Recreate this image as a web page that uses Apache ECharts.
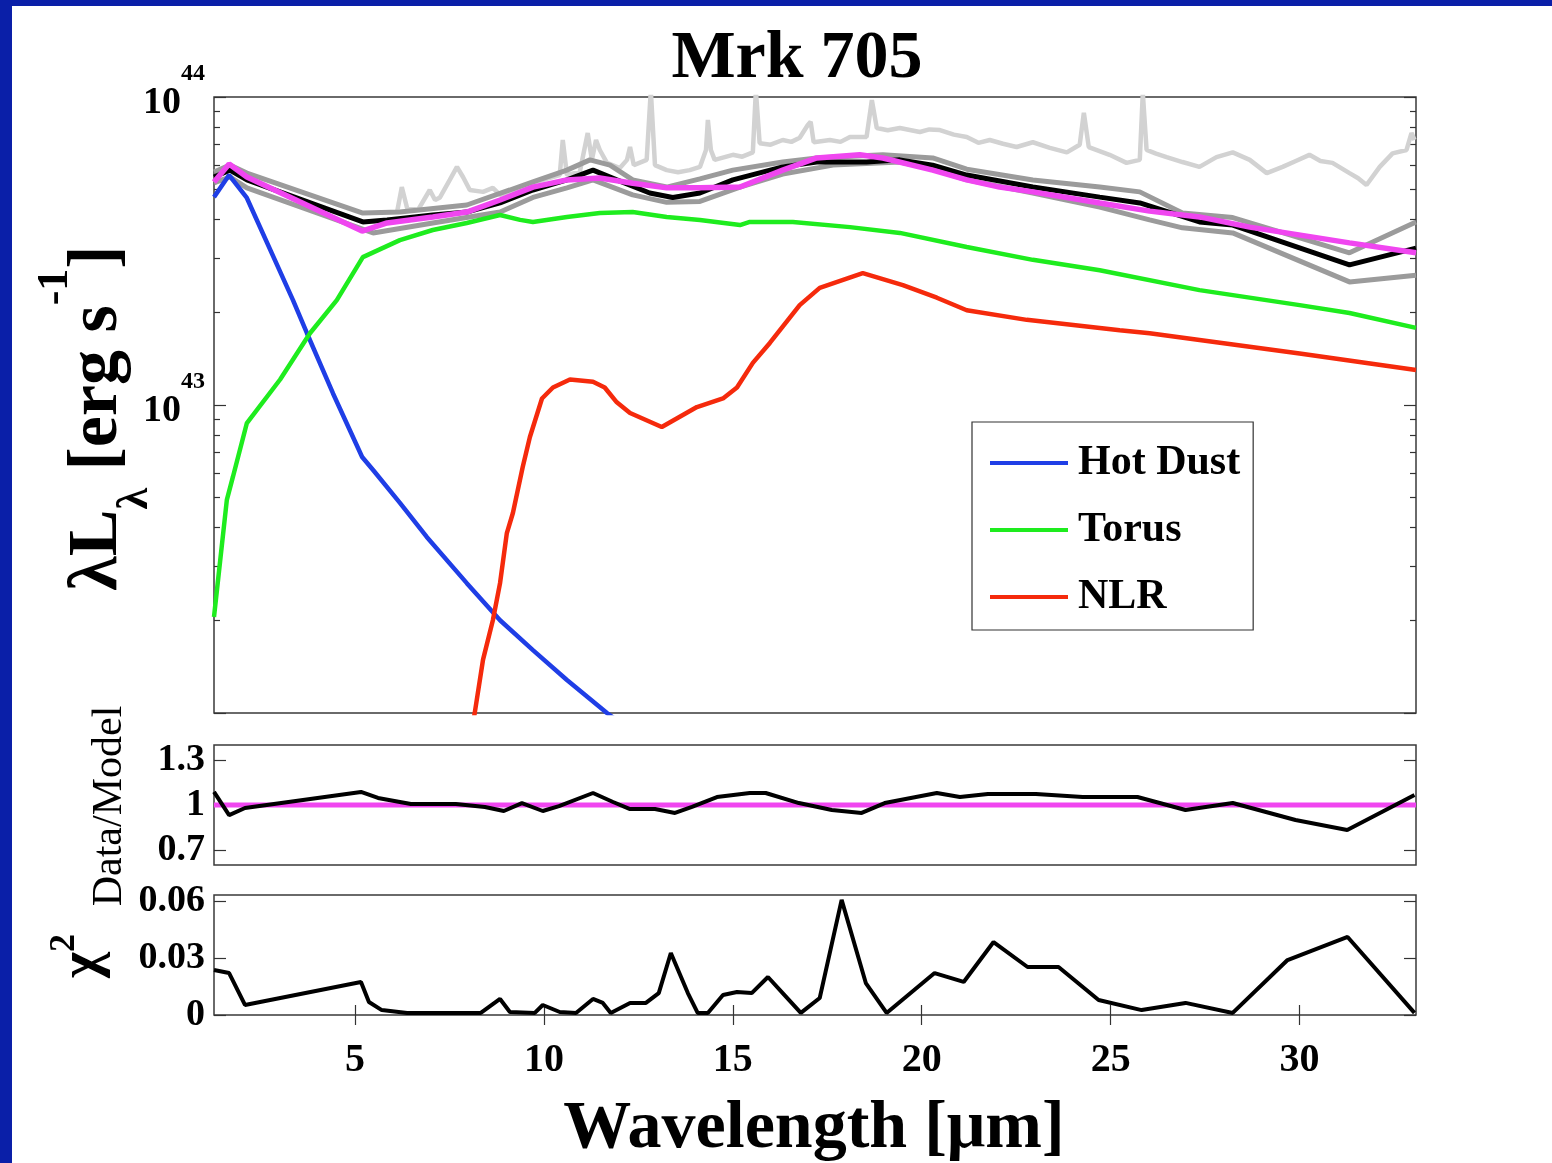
<!DOCTYPE html>
<html><head><meta charset="utf-8">
<script src="https://cdn.jsdelivr.net/npm/echarts@6/dist/echarts.min.js"></script>
<style>
html,body{margin:0;padding:0;background:#0a1fa8;width:1552px;height:1163px;overflow:hidden}
#c{position:absolute;left:12px;top:6px;width:1540px;height:1157px;background:#fff}
</style></head><body><div id="c"></div>
<script>
const F = '"Liberation Serif", "Times New Roman", serif';

// wavelength (µm), λLλ in units of 1e43 erg/s
const spectrum = [[6.11,4.20],[6.24,5.10],[6.38,4.36],[6.67,4.30],[6.98,4.99],[7.12,4.63],[7.25,4.72],[7.51,5.38],[7.70,5.93],[7.86,5.50],[8.04,4.99],[8.39,4.92],[8.65,5.07],[8.84,4.81],[9.23,4.99],[9.71,5.26],[10.16,5.46],[10.42,5.58],[10.50,7.25],[10.61,5.58],[10.95,5.71],[11.16,7.64],[11.27,6.25],[11.38,7.25],[11.48,6.73],[11.67,6.11],[12.01,5.88],[12.20,6.25],[12.28,6.88],[12.38,6.01],[12.72,6.25],[12.83,10.5],[12.94,6.01],[13.25,5.79],[13.55,5.70],[13.86,5.79],[14.13,5.93],[14.29,6.73],[14.34,8.42],[14.42,6.73],[14.52,6.25],[15.0,6.49],[15.25,6.40],[15.53,6.61],[15.61,10.5],[15.71,7.08],[16.0,7.0],[16.32,7.25],[16.55,7.15],[16.77,7.37],[16.98,8.10],[17.06,8.31],[17.14,7.13],[17.57,7.25],[17.85,7.15],[18.10,7.42],[18.54,7.42],[18.68,9.77],[18.81,7.93],[19.10,7.80],[19.42,7.93],[19.95,7.70],[20.20,7.85],[20.48,7.81],[20.85,7.55],[21.19,7.42],[21.50,7.10],[21.80,7.25],[22.15,7.05],[22.51,6.88],[22.94,7.13],[23.39,6.84],[23.84,6.61],[24.18,7.00],[24.29,8.88],[24.42,6.88],[24.97,6.49],[25.42,6.11],[25.77,6.25],[25.85,10.3],[25.95,6.73],[26.20,6.55],[26.48,6.38],[26.90,6.15],[27.35,5.93],[27.80,6.38],[28.23,6.61],[28.68,6.25],[29.13,5.66],[29.55,5.93],[29.90,6.20],[30.26,6.49],[30.55,6.20],[30.87,6.11],[31.32,5.66],[31.55,5.45],[31.77,5.18],[32.12,5.93],[32.46,6.56],[32.83,6.73],[32.96,7.64],[33.04,7.25]];
const dataUpper = [[1.27,5.71],[1.69,6.01],[2.14,5.66],[5.21,4.20],[6.19,4.23],[7.96,4.46],[9.10,4.99],[9.71,5.30],[10.61,5.79],[11.22,6.25],[11.75,6.01],[12.35,5.38],[13.25,5.10],[14.13,5.42],[15.0,5.79],[16.32,6.15],[17.22,6.34],[18.97,6.49],[20.29,6.34],[21.19,5.83],[22.94,5.38],[24.71,5.10],[25.77,4.92],[26.9,4.20],[28.23,4.06],[31.32,3.12],[33.08,3.93]];
const dataLower = [[1.27,5.26],[1.69,5.50],[2.14,5.07],[5.48,3.62],[7.06,3.90],[8.84,4.23],[9.71,4.72],[10.61,5.07],[11.30,5.38],[12.35,4.81],[13.25,4.55],[14.13,4.58],[15.19,5.10],[16.32,5.62],[17.65,6.01],[19.42,6.15],[20.29,5.83],[21.19,5.38],[22.94,4.88],[24.71,4.39],[26.03,3.99],[26.9,3.76],[28.23,3.62],[31.32,2.51],[33.08,2.64]];
const dataSed = [[1.27,5.50],[1.69,5.79],[2.14,5.38],[5.21,3.93],[5.85,3.99],[7.06,4.14],[7.96,4.23],[8.84,4.53],[9.71,4.99],[10.61,5.38],[11.30,5.79],[11.93,5.38],[12.80,4.88],[13.41,4.72],[14.13,4.88],[15.0,5.38],[16.32,5.93],[17.22,6.15],[18.54,6.15],[19.42,6.25],[20.29,6.01],[21.19,5.58],[22.94,5.10],[24.71,4.73],[25.77,4.53],[27.35,3.93],[28.23,3.84],[31.32,2.85],[33.08,3.23]];
const hotDust = [[1.27,4.73],[1.67,5.58],[2.14,4.70],[3.36,2.19],[3.73,1.71],[4.42,1.09],[5.19,0.678],[5.48,0.615],[6.19,0.481],[6.90,0.373],[7.96,0.264],[8.84,0.200],[9.71,0.160],[10.61,0.128],[11.67,0.100],[12.80,0.0787],[14.13,0.0606]];
const torus = [[1.27,0.205],[1.61,0.492],[1.77,0.584],[2.14,0.874],[3.02,1.21],[3.81,1.71],[4.52,2.19],[5.21,3.02],[6.19,3.43],[7.06,3.70],[7.96,3.90],[8.84,4.14],[9.37,3.99],[9.71,3.93],[10.61,4.08],[11.48,4.20],[12.35,4.23],[13.25,4.08],[14.13,3.99],[15.19,3.84],[15.45,3.93],[16.59,3.93],[18.10,3.78],[19.42,3.62],[21.19,3.26],[22.94,2.96],[24.71,2.74],[27.35,2.36],[30.0,2.11],[31.32,1.99],[33.08,1.78]];
const nlr = [[8.07,0.085],[8.17,0.100],[8.39,0.149],[8.65,0.200],[8.84,0.264],[9.02,0.384],[9.18,0.446],[9.44,0.629],[9.63,0.787],[9.95,1.05],[10.24,1.14],[10.69,1.21],[11.30,1.19],[11.61,1.14],[11.93,1.02],[12.28,0.942],[13.12,0.848],[14.05,0.985],[14.74,1.05],[15.11,1.14],[15.53,1.37],[15.98,1.59],[16.77,2.11],[17.30,2.40],[18.44,2.68],[19.50,2.45],[20.40,2.23],[21.19,2.03],[22.78,1.89],[25.24,1.75],[26.03,1.71],[30.0,1.47],[33.08,1.30]];
const model = [[1.27,5.30],[1.67,6.06],[2.14,5.50],[5.19,3.67],[5.85,3.90],[7.06,4.08],[7.96,4.23],[8.84,4.63],[9.71,5.10],[10.61,5.38],[11.48,5.46],[12.35,5.25],[13.25,5.07],[14.13,5.07],[15.19,5.10],[16.32,5.79],[17.22,6.34],[18.36,6.49],[18.97,6.34],[20.29,5.79],[21.19,5.38],[22.06,5.10],[22.94,4.92],[24.71,4.53],[26.03,4.26],[27.35,4.08],[28.68,3.78],[31.32,3.36],[33.08,3.12]];

const ratio = [[1.27,1.087],[1.67,0.933],[2.09,0.98],[5.16,1.087],[5.61,1.047],[6.48,1.007],[7.67,1.007],[8.44,0.987],[8.94,0.96],[9.42,1.013],[9.97,0.96],[10.40,0.993],[11.30,1.08],[11.83,1.02],[12.28,0.973],[12.94,0.973],[13.47,0.947],[13.92,0.987],[14.58,1.053],[15.45,1.08],[15.87,1.08],[16.75,1.013],[17.62,0.967],[18.41,0.947],[19.02,1.013],[20.40,1.08],[21.01,1.053],[21.75,1.073],[23.02,1.073],[24.26,1.053],[25.71,1.053],[26.98,0.967],[28.23,1.013],[29.89,0.90],[31.26,0.833],[33.04,1.067]];
const ratioUnity = [[1.27,1],[33.08,1]];
const chi2 = [[1.27,0.0238],[1.67,0.0222],[2.09,0.0053],[5.16,0.0175],[5.37,0.0069],[5.71,0.0026],[6.38,0.0011],[8.33,0.0011],[8.84,0.0085],[9.10,0.0016],[9.76,0.0011],[9.97,0.0053],[10.42,0.0016],[10.85,0.0011],[11.30,0.0085],[11.56,0.0064],[11.77,0.0011],[12.28,0.0064],[12.70,0.0064],[13.04,0.0116],[13.36,0.0328],[13.81,0.0116],[14.07,0.0011],[14.34,0.0011],[14.74,0.0106],[15.11,0.0122],[15.50,0.0116],[15.93,0.0201],[16.32,0.0116],[16.80,0.0011],[17.30,0.009],[17.88,0.0609],[18.52,0.0169],[19.07,0.0011],[20.34,0.0222],[21.11,0.0175],[21.90,0.0386],[22.80,0.0254],[23.62,0.0254],[24.68,0.0079],[25.82,0.0026],[26.98,0.0064],[28.23,0.0011],[29.68,0.0291],[31.27,0.0413],[33.04,0.0011]];

const xTicks = [5,10,15,20,25,30];
const lumMajor = [1,10];
const lumExp = ['43','44'];
const lumMinor = [0.2,0.3,0.4,0.5,0.6,0.7,0.8,0.9,2,3,4,5,6,7,8,9];
const ratioTicks = [0.7,1,1.3];
const chiTicks = [0,0.03,0.06];
const X_MIN = 1.27, X_MAX = 33.08;

const tickStyle = {lineStyle:{color:'#333',width:1.2}};
const numLabel = {fontFamily:F,fontWeight:'bold',fontSize:38,color:'#000'};

function xAx(grid, extra){
  return Object.assign({type:'value',gridIndex:grid,min:X_MIN,max:X_MAX,axisLine:{show:false},splitLine:{show:false},axisTick:{show:false},axisLabel:{show:false}},extra||{});
}
function yAx(grid, extra){
  return Object.assign({gridIndex:grid,axisLine:{show:false},splitLine:{show:false}},extra);
}
const lumBase = {type:'log',logBase:10,min:0.1,max:10};
const ratioBase = {type:'value',min:0.6,max:1.4};
const chiBase = {type:'value',min:0,max:0.0635};

const option = {
  animation:false,
  textStyle:{fontFamily:F},
  grid:[
    {left:202,top:91,width:1202,height:616,show:true,borderColor:'#3a3a3a',borderWidth:1.5,backgroundColor:'#fff'},
    {left:202,top:739,width:1202,height:120,show:true,borderColor:'#3a3a3a',borderWidth:1.5,backgroundColor:'#fff'},
    {left:202,top:889,width:1202,height:120,show:true,borderColor:'#3a3a3a',borderWidth:1.5,backgroundColor:'#fff'}
  ],
  xAxis:[
    xAx(0), xAx(1),
    xAx(2,{position:'bottom',axisTick:Object.assign({show:true,inside:true,length:10,customValues:xTicks},tickStyle),
      axisLabel:{show:true,customValues:xTicks,margin:26,fontFamily:F,fontWeight:'bold',fontSize:40,color:'#000'}}),
    xAx(2,{position:'top',axisTick:Object.assign({show:true,inside:true,length:10,customValues:xTicks},tickStyle)})
  ],
  yAxis:[
    yAx(0,Object.assign({},lumBase,{position:'left',axisTick:Object.assign({show:true,inside:true,length:12},tickStyle),
      axisLabel:{show:true,margin:9,formatter:function(v){const i=lumMajor.indexOf(Math.round(v*1000)/1000);return i<0?'':'{b|10}{s|'+lumExp[i]+'}';},
        rich:{b:{fontFamily:F,fontWeight:'bold',fontSize:38,color:'#000',padding:[12,0,0,0]},s:{fontFamily:F,fontWeight:'bold',fontSize:24,color:'#000',padding:[0,0,46,0]}}}})),
    yAx(0,Object.assign({},lumBase,{position:'left',axisTick:Object.assign({show:true,inside:true,length:6,customValues:lumMinor},tickStyle),axisLabel:{show:false}})),
    yAx(0,Object.assign({},lumBase,{position:'right',axisTick:Object.assign({show:true,inside:true,length:12},tickStyle),axisLabel:{show:false}})),
    yAx(0,Object.assign({},lumBase,{position:'right',axisTick:Object.assign({show:true,inside:true,length:6,customValues:lumMinor},tickStyle),axisLabel:{show:false}})),
    yAx(1,Object.assign({},ratioBase,{position:'left',axisTick:Object.assign({show:true,inside:true,length:12,customValues:ratioTicks},tickStyle),
      axisLabel:Object.assign({show:true,customValues:ratioTicks,margin:9,padding:[10,0,0,0]},numLabel)})),
    yAx(1,Object.assign({},ratioBase,{position:'right',axisTick:Object.assign({show:true,inside:true,length:12,customValues:ratioTicks},tickStyle),axisLabel:{show:false}})),
    yAx(2,Object.assign({},chiBase,{position:'left',axisTick:Object.assign({show:true,inside:true,length:12,customValues:chiTicks},tickStyle),
      axisLabel:Object.assign({show:true,customValues:chiTicks,margin:9,padding:[10,0,0,0]},numLabel)})),
    yAx(2,Object.assign({},chiBase,{position:'right',axisTick:Object.assign({show:true,inside:true,length:12,customValues:chiTicks},tickStyle),axisLabel:{show:false}}))
  ],
  legend:{data:['Hot Dust','Torus','NLR'],orient:'vertical',left:960,top:416,icon:'rect',itemWidth:78,itemHeight:4,itemGap:25,
    padding:[20,13,12,18],backgroundColor:'#fff',borderColor:'#333',borderWidth:1.2,selectedMode:false,
    textStyle:{fontFamily:F,fontWeight:'bold',fontSize:42,color:'#000',padding:[0,0,0,5]}},
  series:[
    {name:'IRS spectrum',type:'line',xAxisIndex:0,yAxisIndex:0,data:spectrum,symbol:'none',silent:true,lineStyle:{color:'#d2d2d2',width:4.5},z:1},
    {name:'Data upper',type:'line',xAxisIndex:0,yAxisIndex:0,data:dataUpper,symbol:'none',silent:true,lineStyle:{color:'#9b9b9b',width:5},z:2},
    {name:'Data lower',type:'line',xAxisIndex:0,yAxisIndex:0,data:dataLower,symbol:'none',silent:true,lineStyle:{color:'#9b9b9b',width:5},z:2},
    {name:'Data',type:'line',xAxisIndex:0,yAxisIndex:0,data:dataSed,symbol:'none',silent:true,lineStyle:{color:'#000',width:5},z:3},
    {name:'Hot Dust',type:'line',xAxisIndex:0,yAxisIndex:0,data:hotDust,symbol:'none',silent:true,itemStyle:{color:'#1f3ee6'},lineStyle:{color:'#1f3ee6',width:4.5},z:4},
    {name:'Torus',type:'line',xAxisIndex:0,yAxisIndex:0,data:torus,symbol:'none',silent:true,itemStyle:{color:'#1eec1e'},lineStyle:{color:'#1eec1e',width:4.5},z:4},
    {name:'NLR',type:'line',xAxisIndex:0,yAxisIndex:0,data:nlr,symbol:'none',silent:true,itemStyle:{color:'#f52a0c'},lineStyle:{color:'#f52a0c',width:4.5},z:4},
    {name:'Model',type:'line',xAxisIndex:0,yAxisIndex:0,data:model,symbol:'none',silent:true,lineStyle:{color:'#f046f0',width:5.5},z:5},
    {name:'Unity',type:'line',xAxisIndex:1,yAxisIndex:4,data:ratioUnity,symbol:'none',silent:true,lineStyle:{color:'#f046f0',width:5},z:2},
    {name:'Data/Model',type:'line',xAxisIndex:1,yAxisIndex:4,data:ratio,symbol:'none',silent:true,lineStyle:{color:'#000',width:4},z:3},
    {name:'chi2',type:'line',xAxisIndex:2,yAxisIndex:6,data:chi2,symbol:'none',silent:true,lineStyle:{color:'#000',width:4},z:3}
  ],
  graphic:[
    {type:'text',x:785,y:53,silent:true,style:{text:'Mrk 705',fontFamily:F,fontWeight:'bold',fontSize:68,fill:'#000',align:'center',verticalAlign:'middle'}},
    {type:'text',x:86,y:412,rotation:Math.PI/2,silent:true,style:{text:'{m|λL}{sb|λ}{m| [erg s}{sp|-1}{m|]}',align:'center',verticalAlign:'middle',
      rich:{m:{fontFamily:F,fontWeight:'bold',fontSize:70,fill:'#000'},sb:{fontFamily:F,fontWeight:'bold',fontSize:44,fill:'#000',padding:[76,0,0,0]},sp:{fontFamily:F,fontWeight:'bold',fontSize:44,fill:'#000',padding:[0,0,84,0]}}}},
    {type:'text',x:98,y:800,rotation:Math.PI/2,silent:true,style:{text:'Data/Model',fontFamily:F,fontSize:42,fill:'#000',align:'center',verticalAlign:'middle'}},
    {type:'text',x:72,y:950,rotation:Math.PI/2,silent:true,style:{text:'{c|χ}{s|2}',align:'center',verticalAlign:'middle',
      rich:{c:{fontFamily:F,fontWeight:'bold',fontSize:56,fill:'#000'},s:{fontFamily:F,fontWeight:'bold',fontSize:36,fill:'#000',padding:[0,0,38,0]}}}},
    {type:'text',x:802,y:1123,silent:true,style:{text:'Wavelength [μm]',fontFamily:F,fontWeight:'bold',fontSize:68,fill:'#000',align:'center',verticalAlign:'middle'}}
  ]
};
const chart = echarts.init(document.getElementById('c'),null,{renderer:'canvas'});
chart.setOption(option);
</script></body></html>
